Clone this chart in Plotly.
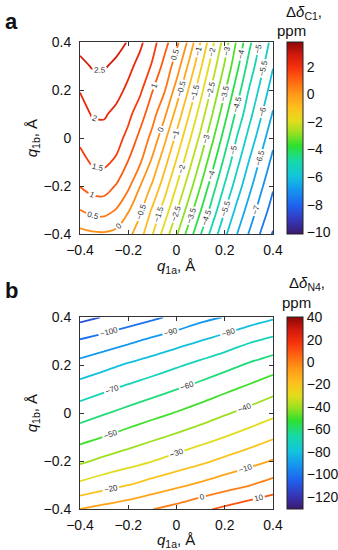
import plotly.graph_objects as go

# ---------------- Panel a data (Δδ_C1, ppm) ----------------
xa = [-0.4, -0.35, -0.3, -0.25, -0.2, -0.15, -0.1, -0.05, 0.0,
      0.05, 0.1, 0.15, 0.2, 0.25, 0.3, 0.35, 0.4]
ya = [0.4, 0.3, 0.2, 0.1, 0.0, -0.1, -0.2, -0.3, -0.4]
za_r04 = [2.68, 2.77, 2.78, 2.66, 2.47, 2.09, 1.68, 1.19, 0.62, -0.10, -1.01, -1.90, -2.74, -3.57, -4.35, -5.08, -5.71]
za_r03 = [2.36, 2.53, 2.54, 2.40, 2.13, 1.83, 1.44, 0.84, 0.26, -0.58, -1.43, -2.27, -3.06, -3.87, -4.68, -5.35, -5.97]
za_r02 = [2.02, 2.24, 2.30, 2.16, 1.89, 1.58, 1.02, 0.54, -0.20, -1.03, -1.84, -2.64, -3.44, -4.25, -5.02, -5.64, -6.26]
za_r01 = [1.81, 2.03, 2.05, 1.88, 1.63, 1.21, 0.69, 0.10, -0.68, -1.46, -2.23, -3.02, -3.83, -4.63, -5.32, -5.95, -6.55]
za_r00 = [1.60, 1.79, 1.82, 1.69, 1.35, 0.85, 0.34, -0.38, -1.13, -1.88, -2.63, -3.43, -4.23, -5.02, -5.66, -6.28, -6.86]
za_m01 = [1.33, 1.55, 1.59, 1.42, 0.97, 0.54, -0.12, -0.83, -1.56, -2.30, -3.07, -3.86, -4.64, -5.36, -6.02, -6.60, -7.15]
za_m02 = [1.01, 1.19, 1.21, 0.96, 0.59, -0.01, -0.58, -1.27, -2.01, -2.74, -3.51, -4.30, -5.05, -5.74, -6.35, -6.91, -7.44]
za_m03 = [0.49, 0.66, 0.69, 0.47, 0.04, -0.41, -1.08, -1.73, -2.46, -3.21, -3.98, -4.74, -5.48, -6.13, -6.69, -7.22, -7.72]
za_m04 = [-0.16, -0.09, -0.07, -0.15, -0.35, -0.82, -1.47, -2.22, -2.94, -3.71, -4.48, -5.22, -5.90, -6.49, -7.03, -7.55, -8.05]
za = [za_r04, za_r03, za_r02, za_r01, za_r00, za_m01, za_m02, za_m03, za_m04]
levels_a = [-10.0, 3.5, 0.5]          # start, end, step of contour levels
cbar_a_ticks = [2, 0, -2, -4, -6, -8, -10]
cbar_a_range = [-10.15, 3.77]

# ---------------- Panel b data (Δδ_N4, ppm) ----------------
xb = [-0.4, -0.3, -0.2, -0.1, 0.0, 0.1, 0.2, 0.3, 0.4]
yb = [0.4, 0.3, 0.2, 0.1, 0.0, -0.1, -0.2, -0.3, -0.4]
zb_r04 = [-113.0, -109.4, -105.5, -101.8, -97.8, -92.9, -89.6, -85.2, -81.4]
zb_r03 = [-98.8, -95.3, -91.6, -87.6, -83.6, -79.7, -75.6, -71.0, -67.2]
zb_r02 = [-86.4, -82.7, -78.7, -75.1, -71.2, -67.2, -63.1, -58.6, -54.6]
zb_r01 = [-75.3, -71.5, -67.6, -63.9, -60.1, -56.2, -51.9, -47.7, -43.1]
zb_r00 = [-64.5, -60.6, -56.8, -53.0, -49.3, -45.3, -41.0, -36.8, -32.4]
zb_m01 = [-53.5, -49.7, -45.7, -41.8, -38.0, -34.0, -29.8, -25.6, -21.0]
zb_m02 = [-41.6, -37.5, -33.9, -30.1, -25.9, -21.9, -17.6, -13.4, -9.2]
zb_m03 = [-27.6, -23.6, -19.9, -15.7, -11.8, -8.0, -4.0, -0.3, 4.1]
zb_m04 = [-9.8, -6.5, -3.7, -0.1, 3.5, 8.0, 12.1, 16.0, 19.3]
zb = [zb_r04, zb_r03, zb_r02, zb_r01, zb_r00, zb_m01, zb_m02, zb_m03, zb_m04]
levels_b = [-130.0, 40.0, 10.0]
cbar_b_ticks = [40, 20, 0, -20, -40, -60, -80, -100, -120]
cbar_b_range = [-131.3, 40]

axis_ticks = [-0.4, -0.2, 0, 0.2, 0.4]


def fmt(v):
    s = ("%g" % v)
    return s.replace("-", "\u2212")


cs = [
    [0.00, "#3b1a6b"],
    [0.07, "#3536b8"],
    [0.15, "#1f62ee"],
    [0.23, "#1596f0"],
    [0.30, "#12c4dc"],
    [0.38, "#16d9a8"],
    [0.46, "#2ee02e"],
    [0.53, "#9ee020"],
    [0.59, "#e3dc1c"],
    [0.66, "#ffbf1e"],
    [0.73, "#ff9818"],
    [0.80, "#ff6410"],
    [0.87, "#f5300c"],
    [0.93, "#d41a0c"],
    [1.00, "#8a0808"],
]

FONT = "Liberation Sans, Arial, sans-serif"
W, H = 338, 550

fig = go.Figure()

lab_font = dict(size=8, color="#333333", family=FONT)

fig.add_trace(go.Contour(
    x=xa, y=ya, z=za, xaxis="x", yaxis="y",
    contours=dict(start=levels_a[0], end=levels_a[1], size=levels_a[2], coloring="lines",
                  showlabels=True, labelfont=lab_font, labelformat=".2~g"),
    colorscale=cs, line=dict(width=1.8, smoothing=1.0), showscale=False, hoverinfo="skip"))

fig.add_trace(go.Heatmap(
    x=xa, y=ya, z=za, xaxis="x", yaxis="y", opacity=0,
    colorscale=cs, zmin=cbar_a_range[0], zmax=cbar_a_range[1], zauto=False,
    showscale=True, hoverinfo="skip",
    colorbar=dict(x=286.7 / W, xanchor="left", xpad=0, ypad=0,
                  y=1 - 42.3 / H, yanchor="top", len=192 / H, lenmode="fraction",
                  thickness=16, thicknessmode="pixels",
                  outlinewidth=1, outlinecolor="#222222", ticks="",
                  tickvals=cbar_a_ticks, ticktext=[fmt(v) for v in cbar_a_ticks],
                  tickfont=dict(size=14, color="#111111", family=FONT))))

fig.add_trace(go.Contour(
    x=xb, y=yb, z=zb, xaxis="x2", yaxis="y2",
    contours=dict(start=levels_b[0], end=levels_b[1], size=levels_b[2], coloring="lines",
                  showlabels=True, labelfont=lab_font),
    colorscale=cs, line=dict(width=1.8, smoothing=1.0), showscale=False, hoverinfo="skip"))

fig.add_trace(go.Heatmap(
    x=xb, y=yb, z=zb, xaxis="x2", yaxis="y2", opacity=0,
    colorscale=cs, zmin=cbar_b_range[0], zmax=cbar_b_range[1], zauto=False,
    showscale=True, hoverinfo="skip",
    colorbar=dict(x=286.7 / W, xanchor="left", xpad=0, ypad=0,
                  y=1 - 317.3 / H, yanchor="top", len=192 / H, lenmode="fraction",
                  thickness=16, thicknessmode="pixels",
                  outlinewidth=1, outlinecolor="#222222", ticks="",
                  tickvals=cbar_b_ticks, ticktext=[fmt(v) for v in cbar_b_ticks],
                  tickfont=dict(size=14, color="#111111", family=FONT))))

xdom = [80 / W, 273 / W]
common = dict(range=[-0.4, 0.4], tickvals=axis_ticks, ticktext=[fmt(v) for v in axis_ticks],
              ticks="inside", ticklen=4, tickcolor="#333333", tickwidth=1,
              showline=True, linecolor="#333333", linewidth=1, mirror="ticks",
              showgrid=False, zeroline=False, automargin=False,
              tickfont=dict(size=14, color="#111111", family=FONT))

fig.update_layout(
    width=W, height=H, margin=dict(l=0, r=0, t=0, b=0, autoexpand=False),
    paper_bgcolor="white", plot_bgcolor="white",
    font=dict(family=FONT, size=14, color="#111111"),
    showlegend=False,
    xaxis=dict(domain=xdom, anchor="y", ticklabelstandoff=3, **common),
    yaxis=dict(domain=[1 - 234.3 / H, 1 - 42.3 / H], anchor="x", ticklabelstandoff=5, **common),
    xaxis2=dict(domain=xdom, anchor="y2", ticklabelstandoff=3, **common),
    yaxis2=dict(domain=[1 - 509.3 / H, 1 - 317.3 / H], anchor="x2", ticklabelstandoff=5, **common),
)

ann = []
def add(text, px, py, size=15, angle=0, xanchor="center", yanchor="middle"):
    ann.append(dict(text=text, x=px / W, y=1 - py / H, xref="paper", yref="paper",
                    showarrow=False, textangle=angle, xanchor=xanchor, yanchor=yanchor,
                    font=dict(size=size, family=FONT, color="#111111")))

add("<b>a</b>", 3, 21, size=22, xanchor="left")
add("<b>b</b>", 3, 290, size=22, xanchor="left")
add("<i>q</i><sub>1a</sub>, Å", 176.5, 266, size=15)
add("<i>q</i><sub>1b</sub>, Å", 32, 138.3, size=15, angle=-90)
add("<i>q</i><sub>1a</sub>, Å", 176.5, 540, size=15)
add("<i>q</i><sub>1b</sub>, Å", 32, 413.3, size=15, angle=-90)
add("Δ<i>δ</i><sub>C1</sub>,", 304, 12, size=15)
add("ppm", 291, 30, size=15)
add("Δ<i>δ</i><sub>N4</sub>,", 307, 283, size=15)
add("ppm", 296, 302, size=15)
fig.update_layout(annotations=ann)

fig.write_html("out.html", config={"displayModeBar": False},
               post_script="document.body.style.margin='0';document.body.style.padding='0';")
